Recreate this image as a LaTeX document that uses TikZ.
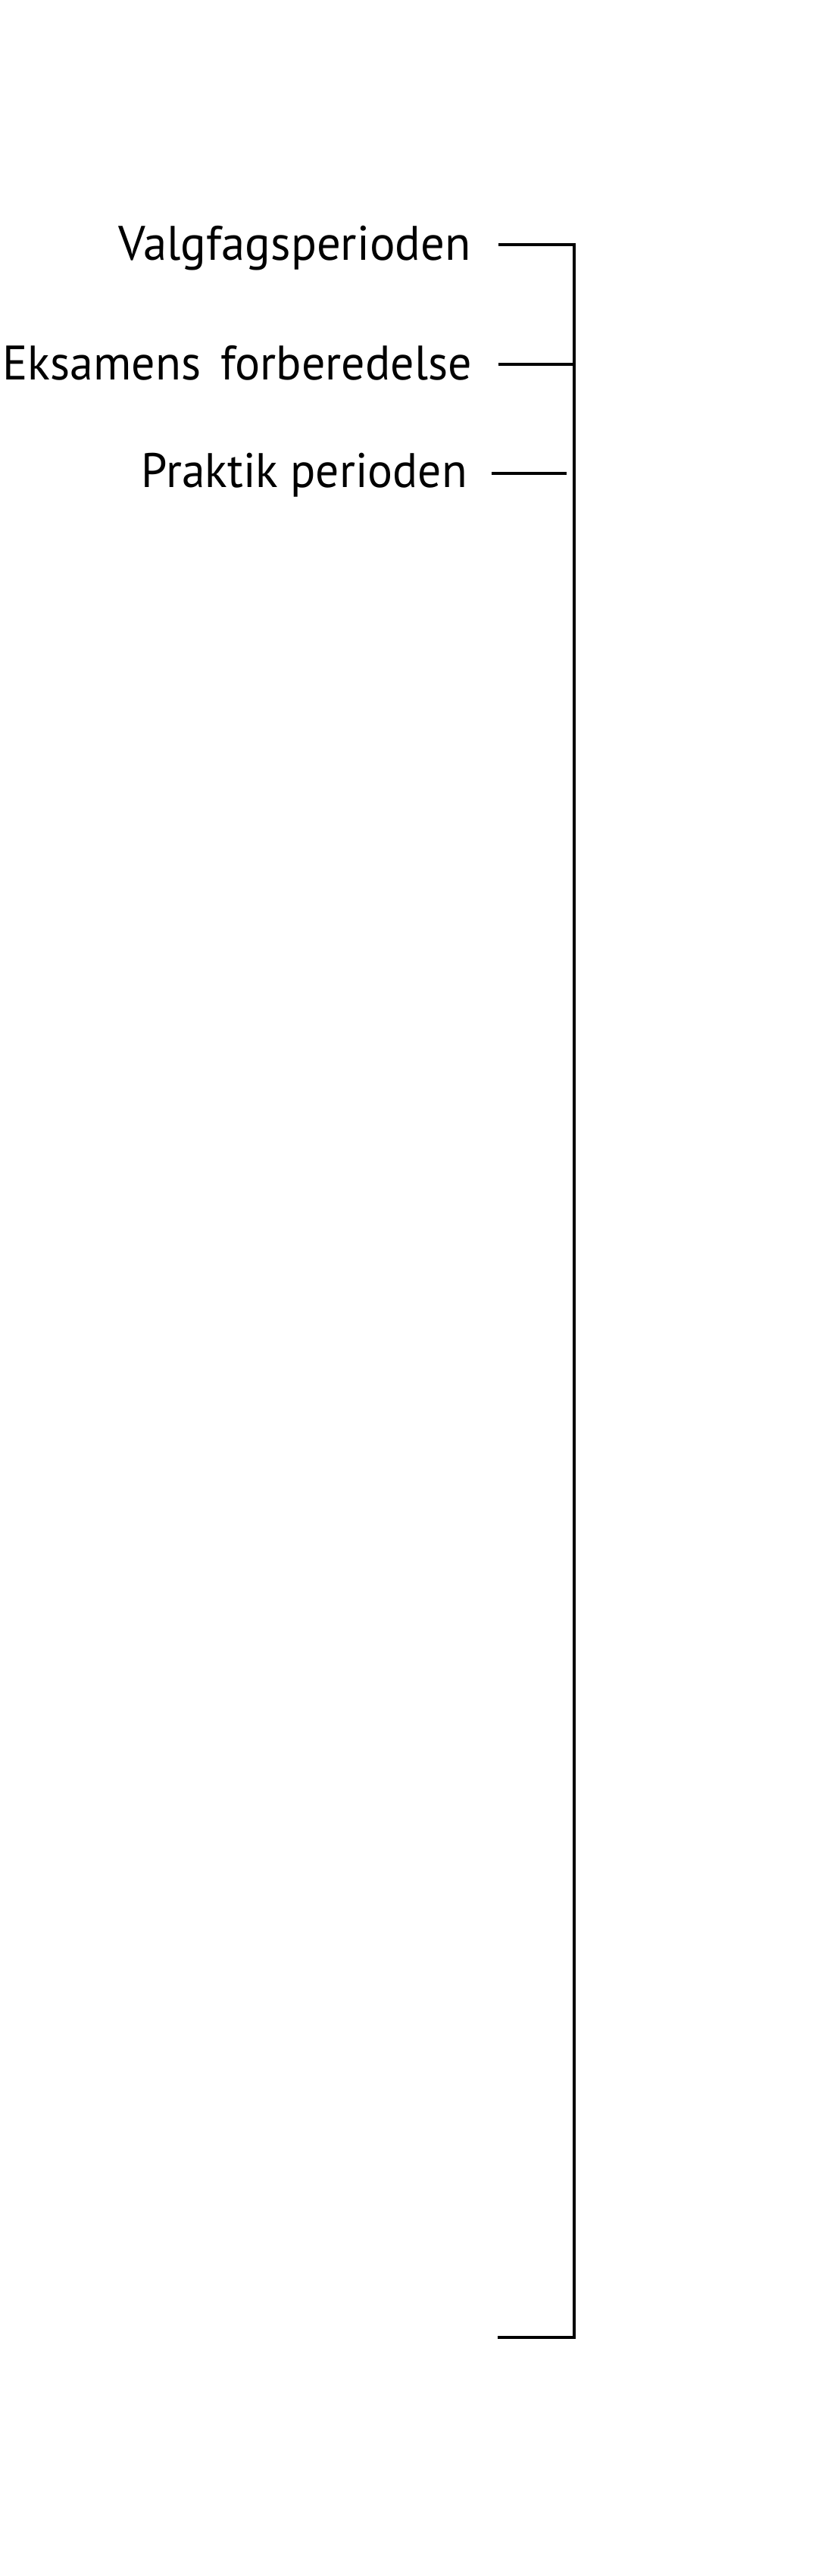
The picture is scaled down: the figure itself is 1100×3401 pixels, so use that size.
\documentclass[tikz,border=0pt]{standalone}
\usepackage{fontspec}
\setmainfont{PT Sans}
\usepackage{graphicx}
\tikzset{
  lbl/.style={anchor=base east, inner sep=0pt, font=\fontsize{64}{70}\selectfont},
  bar/.style={line width=3.3pt, black, line join=miter, line cap=butt}
}
\begin{document}
\begin{tikzpicture}[x=1pt,y=-1pt]
\useasboundingbox[fill=white] (0,0) rectangle (1100,3401);
\node[lbl] (v) at (622,343) {\resizebox{465pt}{\height}{Valgfagsperioden}};
\node[lbl] (e) at (623,501) {\resizebox{619pt}{\height}{Eksamens\hspace{0.42em}forberedelse}};
\node[lbl] (p) at (617,643) {\resizebox{430pt}{\height}{Praktik perioden}};
\coordinate (v1) at (658,323);
\coordinate (v2) at (758,323);
\coordinate (e1) at (658,481);
\coordinate (e2) at (758,481);
\coordinate (p1) at (649,625);
\coordinate (p2) at (748,625);
\coordinate (b2) at (758,3086);
\coordinate (b1) at (657,3086);
\draw[bar] (v1) -- (v2) -- (b2) -- (b1);
\draw[bar] (e1) -- (e2);
\draw[bar] (p1) -- (p2);
\end{tikzpicture}
\end{document}
